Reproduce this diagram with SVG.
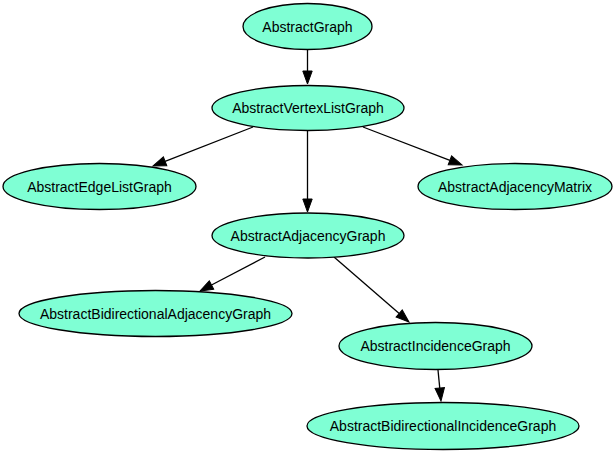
<svg xmlns="http://www.w3.org/2000/svg" width="614" height="454" viewBox="0 0 614 454">
<style>
.node ellipse{fill:#7fffd4;stroke:#000;stroke-width:1.3}
.node text{font-family:"Liberation Sans",Helvetica,Arial,sans-serif;font-size:14px;fill:#000;text-anchor:middle}
.edge{stroke:#000;stroke-width:1.3;fill:none}
</style>
<defs>
<marker id="arr" markerUnits="userSpaceOnUse" markerWidth="14" markerHeight="10" refX="0" refY="4.7" orient="auto" overflow="visible">
<path d="M0,0 L13,4.7 L0,9.4 z" fill="#000" stroke="#000" stroke-width="1"/>
</marker>
</defs>
<rect width="614" height="454" fill="#fff"/>
<g id="edges">
<line class="edge" x1="307.5" y1="50" x2="307.5" y2="71" marker-end="url(#arr)"/>
<line class="edge" x1="253" y1="127" x2="165.1" y2="161.3" marker-end="url(#arr)"/>
<line class="edge" x1="363" y1="127" x2="449.9" y2="160.3" marker-end="url(#arr)"/>
<line class="edge" x1="307.5" y1="131" x2="307.5" y2="199" marker-end="url(#arr)"/>
<line class="edge" x1="265" y1="257" x2="211.5" y2="285" marker-end="url(#arr)"/>
<line class="edge" x1="334" y1="257" x2="399.2" y2="313.5" marker-end="url(#arr)"/>
<line class="edge" x1="438" y1="370" x2="439.75" y2="388.1" marker-end="url(#arr)"/>
</g>
<g id="AbstractGraph" class="node"><ellipse cx="307.5" cy="26.5" rx="64.5" ry="23"/><text x="307.5" y="31.5">AbstractGraph</text></g>
<g id="AbstractVertexListGraph" class="node"><ellipse cx="308" cy="108" rx="96" ry="22.5"/><text x="308" y="113">AbstractVertexListGraph</text></g>
<g id="AbstractEdgeListGraph" class="node"><ellipse cx="99.5" cy="186.5" rx="96.5" ry="23"/><text x="99.5" y="191.5">AbstractEdgeListGraph</text></g>
<g id="AbstractAdjacencyMatrix" class="node"><ellipse cx="515" cy="186.5" rx="97" ry="23"/><text x="515" y="191.5">AbstractAdjacencyMatrix</text></g>
<g id="AbstractAdjacencyGraph" class="node"><ellipse cx="308" cy="235.5" rx="96" ry="22.5"/><text x="308" y="240.5">AbstractAdjacencyGraph</text></g>
<g id="AbstractBidirectionalAdjacencyGraph" class="node"><ellipse cx="155.5" cy="313.5" rx="136.5" ry="23"/><text x="155.5" y="318.5">AbstractBidirectionalAdjacencyGraph</text></g>
<g id="AbstractIncidenceGraph" class="node"><ellipse cx="435.5" cy="346" rx="96.5" ry="23.5"/><text x="435.5" y="351">AbstractIncidenceGraph</text></g>
<g id="AbstractBidirectionalIncidenceGraph" class="node"><ellipse cx="443" cy="426" rx="136" ry="23.5"/><text x="443" y="431">AbstractBidirectionalIncidenceGraph</text></g>
</svg>
